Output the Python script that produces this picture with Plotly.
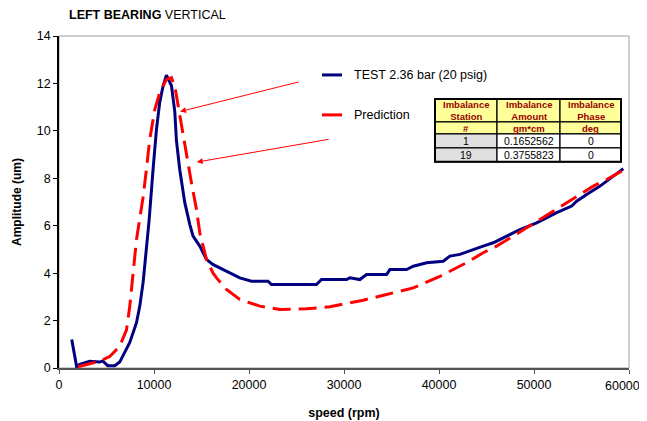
import plotly.graph_objects as go

# ---------------- data ----------------
test_speed = [1340, 1860, 2180, 3230, 4290, 4600, 5130, 5870, 6390, 6710, 7450, 8150, 8500,
              8850, 9200, 9480, 9900, 10260, 10600, 10960, 11310, 11840, 12190, 12360, 12710,
              13060, 13240, 13770, 13940, 14110, 14820, 15520, 16190, 17270, 19030, 20260,
              22010, 22360, 27100, 27630, 30270, 30610, 31670, 32370, 34480, 34830, 36590,
              37290, 38700, 40440, 41150, 42200, 43600, 44650, 45710, 47110, 48520, 50280,
              51330, 52390, 53970, 54490, 55540, 56950, 58350, 59400]
test_amp = [1.2, 0.05, 0.15, 0.28, 0.25, 0.3, 0.1, 0.1, 0.25, 0.49, 1.08, 1.9, 2.6,
            3.6, 5.0, 6.2, 8.37, 10.06, 11.2, 11.9, 12.35, 11.9, 10.8, 9.6, 8.37,
            7.5, 6.97, 6.05, 5.84, 5.56, 5.14, 4.58, 4.37, 4.15, 3.8, 3.66,
            3.66, 3.52, 3.52, 3.73, 3.73, 3.8, 3.73, 3.94, 3.94, 4.15, 4.15,
            4.29, 4.44, 4.5, 4.72, 4.79, 5.0, 5.14, 5.28, 5.56, 5.84, 6.12,
            6.33, 6.55, 6.83, 7.03, 7.32, 7.67, 8.09, 8.4]

pred_speed = [2000, 4290, 5340, 6390, 7100, 7450, 7800, 8150, 8500, 8850, 9200, 9550, 10080,
              10600, 11310, 11840, 12190, 12540, 12890, 13420, 13940, 14470, 14820, 15520,
              16220, 16580, 17630, 19030, 21140, 23240, 26050, 28510, 32020, 34480, 37290,
              40090, 42900, 44650, 46060, 47820, 49220, 50630, 52030, 53440, 54840, 56240,
              57650, 59230]
pred_amp = [0.05, 0.29, 0.48, 0.92, 1.6, 2.6, 4.0, 5.4, 6.3, 7.2, 8.37, 9.64, 10.9,
            11.6, 12.17, 12.24, 11.88, 11.04, 10.2, 8.93, 7.81, 6.69, 5.7, 4.58,
            4.0, 3.8, 3.31, 2.89, 2.61, 2.47, 2.5, 2.58, 2.86, 3.1, 3.38,
            3.86, 4.44, 4.86, 5.14, 5.56, 5.91, 6.26, 6.61, 6.97, 7.32, 7.67,
            7.95, 8.3]

series_names = ["TEST 2.36 bar (20 psig)", "Prediction"]

x_ticks = [0, 10000, 20000, 30000, 40000, 50000, 60000]
y_ticks = [0, 2, 4, 6, 8, 10, 12, 14]

table_header1 = ["Imbalance<br>Station", "Imbalance<br>Amount", "Imbalance<br>Phase"]
table_header2 = ["#", "gm*cm", "deg"]
imb_station = ["1", "19"]
imb_amount = ["0.1652562", "0.3755823"]
imb_phase = ["0", "0"]

# ---------------- layout geometry (screen pixels) ----------------
OFF = 8  # page body margin in the browser
SW, SH = 647, 421
W, H = SW - OFF, SH - OFF
L, R, T, B = 59, 629, 36, 368.5


def px(xp):
    return (xp - L) / (R - L)


def py(yp):
    return (B - yp) / (B - T)


NAVY = "#000080"
RED = "#FF0000"
FONT = "Liberation Sans, Arial, sans-serif"

fig = go.Figure()
fig.add_trace(go.Scatter(x=test_speed, y=test_amp, mode="lines", name=series_names[0],
                         line=dict(color=NAVY, width=3)))
fig.add_trace(go.Scatter(x=pred_speed, y=pred_amp, mode="lines", name=series_names[1],
                         line=dict(color=RED, width=3, dash="18px,8px")))

shapes = []
annotations = []

# plot-area border (top/right gray)
shapes.append(dict(type="rect", xref="paper", yref="paper", x0=0, x1=1, y0=0, y1=1,
                   line=dict(color="#A0A0A0", width=1), layer="below"))

# Legend (manual)
legend_y = [75, 115]
legend_col = [NAVY, RED]
for name, yy, col in zip(series_names, legend_y, legend_col):
    shapes.append(dict(type="line", xref="paper", yref="paper", x0=px(322), x1=px(342),
                       y0=py(yy), y1=py(yy), line=dict(color=col, width=3)))
    annotations.append(dict(xref="paper", yref="paper", x=px(352), y=py(yy), text=name,
                            showarrow=False, xanchor="left", yanchor="middle",
                            font=dict(family=FONT, size=12.5, color="black")))

# Arrows
arrows = [((180, 111.7), (300, 81.7)), ((196.7, 162.3), (330, 139.3))]
for (hx, hy), (tx, ty) in arrows:
    annotations.append(dict(xref="paper", yref="paper", x=px(hx), y=py(hy),
                            axref="pixel", ayref="pixel", ax=tx - hx, ay=ty - hy,
                            text="", showarrow=True, arrowhead=2, arrowsize=1.2,
                            arrowwidth=1, arrowcolor=RED, standoff=0))

# Table
col_x = [435, 497, 560, 621]
row_y = [99, 122, 134, 148, 162]
HDR_FILL = "#FFFF99"
HDR_TXT = "#990000"
rows = [table_header1, table_header2,
        [imb_station[0], imb_amount[0], imb_phase[0]],
        [imb_station[1], imb_amount[1], imb_phase[1]]]
for ri, row in enumerate(rows):
    for ci, txt in enumerate(row):
        x0, x1 = col_x[ci], col_x[ci + 1]
        y0, y1 = row_y[ri], row_y[ri + 1]
        if ri < 2:
            fill = HDR_FILL
        elif ci == 0:
            fill = "#E0E0E0"
        else:
            fill = "white"
        shapes.append(dict(type="rect", xref="paper", yref="paper",
                           x0=px(x0), x1=px(x1), y0=py(y1), y1=py(y0),
                           fillcolor=fill, line=dict(color="black", width=1.2), layer="above"))
        if ri < 2:
            f = dict(family=FONT, size=9.5, color=HDR_TXT)
            t = "<b>" + txt.replace("<br>", "</b><br><b>") + "</b>"
        else:
            f = dict(family=FONT, size=10.5, color="black")
            t = txt
        annotations.append(dict(xref="paper", yref="paper", x=px((x0 + x1) / 2),
                                y=py((y0 + y1) / 2 + 0.5), text=t, showarrow=False,
                                xanchor="center", yanchor="middle", font=f))
shapes.append(dict(type="rect", xref="paper", yref="paper",
                   x0=px(col_x[0]), x1=px(col_x[-1]), y0=py(row_y[-1]), y1=py(row_y[0]),
                   line=dict(color="black", width=2), layer="above"))

# Title
annotations.append(dict(xref="paper", yref="paper", x=px(67), y=py(15),
                        text="<b>LEFT BEARING</b> VERTICAL", showarrow=False,
                        xanchor="left", yanchor="middle",
                        font=dict(family=FONT, size=12.5, color="black")))

# last x tick label is drawn shifted left (as in the reference) so it is not clipped
x_ticktext = [str(v) for v in x_ticks]
last_label = x_ticktext[-1]
x_ticktext[-1] = ""
annotations.append(dict(xref="paper", yref="paper", x=px(622), y=py(387), text=last_label,
                        showarrow=False, xanchor="center", yanchor="middle",
                        font=dict(family=FONT, size=12.5, color="black")))

fig.update_layout(
    width=W, height=H,
    margin=dict(l=L - OFF, r=SW - R, t=T - OFF, b=SH - B, pad=0, autoexpand=False),
    paper_bgcolor="white", plot_bgcolor="white",
    showlegend=False,
    font=dict(family=FONT, size=12, color="black"),
    shapes=shapes, annotations=annotations,
    xaxis=dict(range=[0, 60000], tickvals=x_ticks, ticktext=x_ticktext,
               showgrid=False, zeroline=False, showline=True, linecolor="#555555",
               linewidth=1.5, ticks="outside", ticklen=4, tickcolor="#555555",
               tickfont=dict(size=12.5), automargin=False,
               title=dict(text="<b>speed (rpm)</b>", font=dict(size=12.5), standoff=17)),
    yaxis=dict(range=[0, 14], tickvals=y_ticks, ticktext=[str(v) for v in y_ticks],
               showgrid=False, zeroline=False, showline=True, linecolor="black",
               linewidth=1.5, ticks="outside", ticklen=4, tickcolor="black",
               tickfont=dict(size=12.5), automargin=False,
               title=dict(text="<b>Amplitude (um)</b>", font=dict(size=12), standoff=13)),
)

fig.write_html("out.html")
